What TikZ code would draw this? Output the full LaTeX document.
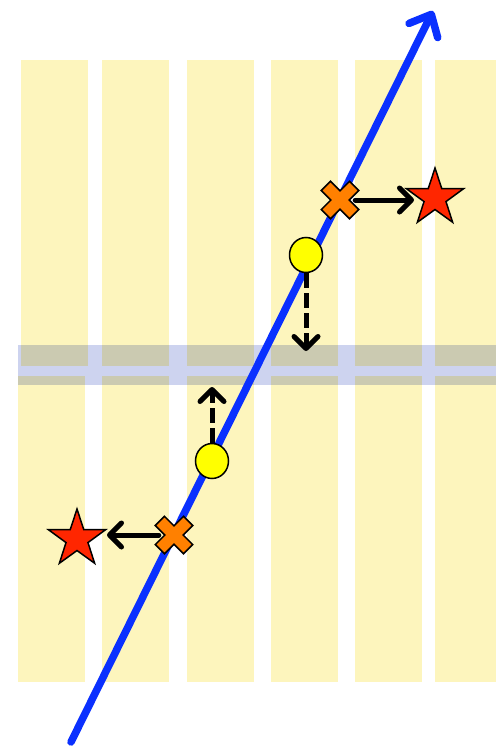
\documentclass[tikz,border=0pt]{standalone}
\usetikzlibrary{arrows.meta, shapes.geometric}

\definecolor{stripyellow}{HTML}{FDF5BD}
\definecolor{bandblue}{HTML}{CDD3EF}
\definecolor{trackblue}{HTML}{0A30FF}
\definecolor{hitorange}{HTML}{FF8000}
\definecolor{starred}{HTML}{FF2600}
\definecolor{spotyellow}{HTML}{FFFF00}

\begin{document}
\begin{tikzpicture}[x=1pt, y=-1pt,
		strip/.style={fill=stripyellow, draw=none},
		band/.style={fill=bandblue, draw=none},
		track/.style={trackblue, line width=7.5pt, line cap=round, -{Straight Barb[round, length=18pt, width=32pt]}},
		hitspot/.style={circle, minimum size=30pt, inner sep=0pt},
		spot/.style={ellipse, draw=black, line width=1.5pt, fill=spotyellow, minimum width=33pt, minimum height=35pt, inner sep=0pt},
		starmark/.style={star, star points=5, star point ratio=2.6, minimum size=60pt, inner sep=0pt, draw=black, line width=1.5pt, fill=starred},
		push/.style={line width=5pt, line cap=round, -{Straight Barb[round, length=12pt, width=24pt]}},
		pull/.style={push, line cap=butt, dash pattern=on 15pt off 5pt},
		xmark/.pic={
			\draw[line width=1.5pt, fill=hitorange, rotate=45] (6.5,6.5) -- (20,6.5) -- (20,-6.5) -- (6.5,-6.5) -- (6.5,-20) -- (-6.5,-20) -- (-6.5,-6.5) -- (-20,-6.5) -- (-20,6.5) -- (-6.5,6.5) -- (-6.5,20) -- (6.5,20) -- cycle;
		}]
		\useasboundingbox (0,0) rectangle (496,747);

		% detector strips, upper and lower half
		\foreach \xl/\xr in {21/88, 102/169, 187/254, 271/338, 355/422, 435/496}
			\fill[strip] (\xl,60) rectangle (\xr,366);
		\foreach \xl/\xr in {18/85, 102/169, 187/254, 271/338, 355/422, 435/496}
			\fill[strip] (\xl,376) rectangle (\xr,682);
		\begin{scope}[blend mode=multiply]
			\fill[band] (18,345) rectangle (496,385);
		\end{scope}

		% track
		\coordinate (trk_in) at (71,742);
		\coordinate (trk_out) at (433,11);
		\draw[track] (trk_in) -- (trk_out);

		% hits and their targets
		\node[hitspot] (xa) at (340,200) {};
		\node[hitspot] (xb) at (174,535) {};
		\node[starmark] (sa) at (435,198) {};
		\node[starmark] (sb) at (77,539) {};
		\node[spot] (ca) at (306,255) {};
		\node[spot] (cb) at (212,461) {};
		\coordinate (ta) at (306,351);
		\coordinate (tb) at (212,387);

		\draw[push, shorten >=21pt] (xa) -- (xa -| sa);
		\draw[push, shorten >=30pt] (xb) -- (xb -| sb);
		\draw[pull] (ca) -- (ta);
		\draw[pull] (cb) -- (tb);

		\pic at (xa) {xmark};
		\pic at (xb) {xmark};
	\end{tikzpicture}
\end{document}
